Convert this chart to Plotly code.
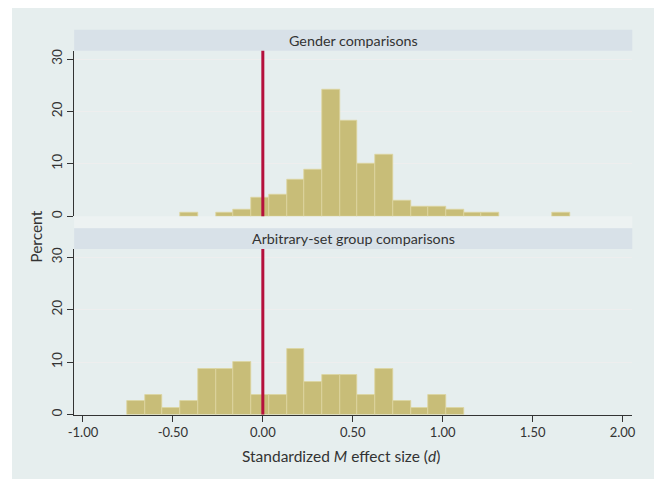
import plotly.graph_objects as go

# ---------------- data ----------------
bin_left = [-0.754, -0.6555, -0.557, -0.4585, -0.360, -0.2615, -0.163, -0.0645,
            0.034, 0.1325, 0.231, 0.3295, 0.428, 0.5265, 0.625, 0.7235, 0.822,
            0.9205, 1.019, 1.1175, 1.216, 1.3145, 1.413, 1.5115, 1.610]
bin_width = 0.0985

gender_pct = [0, 0, 0, 0.59, 0, 0.59, 1.18, 3.53, 4.12, 7.06, 8.82, 24.1, 18.2,
              10.0, 11.8, 2.94, 1.76, 1.76, 1.18, 0.59, 0.59, 0, 0, 0, 0.59]
arbitrary_pct = [2.5, 3.75, 1.25, 2.5, 8.75, 8.75, 10.0, 3.75, 3.75, 12.5, 6.25,
                 7.5, 7.5, 3.75, 8.75, 2.5, 1.25, 3.75, 1.25, 0, 0, 0, 0, 0, 0]

panel_titles = ["Gender comparisons", "Arbitrary-set group comparisons"]
x_title = "Standardized <i>M</i> effect size (<i>d</i>)"
y_title = "Percent"
x_tick_vals = [-1.0, -0.5, 0.0, 0.5, 1.0, 1.5, 2.0]
x_tick_text = ["-1.00", "-0.50", "0.00", "0.50", "1.00", "1.50", "2.00"]
y_tick_vals = [0, 10, 20, 30]
y_tick_text = ["0", "10", "20", "30"]
ref_line_x = 0.0

# ---------------- styling ----------------
OFF = 8                      # page body margin
W, H = 663 - 2 * OFF, 487 - 2 * OFF
FONT = "Lato"
BAR = "#c8bd78"
BAR_EDGE = "#ddd5a0"
RED = "#b5103c"
OUTER = "#e6eeee"
STRIP = "#d8e1e8"
TXT = "#333333"

def px(x):
    return (x - OFF) / W

def py(y):
    return 1 - (y - OFF) / H

x_dom = [px(69), px(635)]
top_dom = [py(216), py(49)]
bot_dom = [py(416), py(249)]

centers = [b + bin_width / 2 for b in bin_left]

fig = go.Figure()
for vals, ax in [(gender_pct, ("x", "y")), (arbitrary_pct, ("x2", "y2"))]:
    fig.add_trace(go.Bar(
        x=centers, y=[v if v > 0 else None for v in vals], width=bin_width,
        marker=dict(color=BAR, line=dict(color=BAR_EDGE, width=0.8)),
        xaxis=ax[0], yaxis=ax[1], showlegend=False, hoverinfo="skip"))

yax_common = dict(range=[0, 31.6], tickvals=y_tick_vals, ticktext=y_tick_text,
                  tickangle=-90, ticks="outside", ticklen=6, tickcolor=TXT,
                  showline=True, linecolor=TXT, linewidth=1,
                  showgrid=True, gridcolor="#eeeeee", gridwidth=1,
                  zeroline=False, tickfont=dict(family=FONT, size=13.5, color=TXT))

fig.update_layout(
    width=W, height=H,
    margin=dict(l=0, r=0, t=0, b=0),
    paper_bgcolor="white", plot_bgcolor="white",
    bargap=0,
    xaxis=dict(domain=x_dom, range=[-1.049, 2.054], anchor="y",
               showticklabels=False, showline=False, showgrid=False,
               zeroline=False, ticks=""),
    yaxis=dict(domain=top_dom, anchor="x", **yax_common),
    xaxis2=dict(domain=x_dom, range=[-1.049, 2.054], anchor="y2",
                tickvals=x_tick_vals, ticktext=x_tick_text,
                ticks="outside", ticklen=6, tickcolor=TXT,
                showline=True, linecolor=TXT, linewidth=1,
                showgrid=False, zeroline=False,
                tickfont=dict(family=FONT, size=13, color=TXT)),
    yaxis2=dict(domain=bot_dom, anchor="x2", **yax_common),
)

shapes = [
    dict(type="rect", xref="paper", yref="paper", x0=px(6), x1=px(657),
         y0=py(481), y1=py(6), fillcolor=OUTER, line=dict(width=0), layer="below"),
    dict(type="rect", xref="paper", yref="paper", x0=px(69), x1=px(635),
         y0=py(228), y1=py(216), fillcolor="#edf2f2", line=dict(width=0), layer="below"),
    dict(type="rect", xref="paper", yref="paper", x0=px(69), x1=px(635),
         y0=py(49), y1=py(28), fillcolor=STRIP, line=dict(width=0), layer="below"),
    dict(type="rect", xref="paper", yref="paper", x0=px(69), x1=px(635),
         y0=py(249), y1=py(228), fillcolor=STRIP, line=dict(width=0), layer="below"),
]
for xa, ya in [("x", "y"), ("x2", "y2")]:
    shapes.append(dict(type="line", xref=xa, yref=ya + " domain",
                       x0=ref_line_x, x1=ref_line_x, y0=0, y1=1,
                       line=dict(color=RED, width=3), layer="above"))
fig.update_layout(shapes=shapes)

annotations = [
    dict(text=panel_titles[0], xref="paper", yref="paper", x=px(352), y=py(38.5),
         showarrow=False, font=dict(family=FONT, size=14.3, color=TXT),
         xanchor="center", yanchor="middle"),
    dict(text=panel_titles[1], xref="paper", yref="paper", x=px(352), y=py(238.5),
         showarrow=False, font=dict(family=FONT, size=14.3, color=TXT),
         xanchor="center", yanchor="middle"),
    dict(text=y_title, xref="paper", yref="paper", x=px(30), y=py(237),
         showarrow=False, textangle=-90, font=dict(family=FONT, size=15.5, color=TXT),
         xanchor="center", yanchor="middle"),
    dict(text=x_title, xref="paper", yref="paper", x=px(340), y=py(458),
         showarrow=False, font=dict(family=FONT, size=15.5, color=TXT),
         xanchor="center", yanchor="middle"),
]
fig.update_layout(annotations=annotations)

fig.write_html("out.html")
